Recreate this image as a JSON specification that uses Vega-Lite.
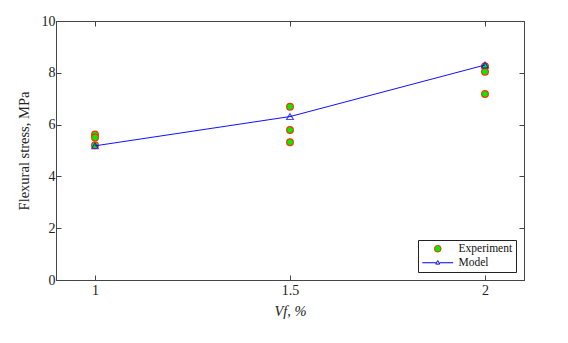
{
  "$schema": "https://vega.github.io/schema/vega-lite/v6.json",
  "width": 468,
  "height": 259,
  "autosize": "none",
  "padding": {"left": 56, "top": 21, "right": 44, "bottom": 63},
  "background": "white",
  "config": {
    "view": {"stroke": "#444", "strokeWidth": 1},
    "font": "Liberation Serif",
    "axis": {
      "grid": false,
      "domainColor": "#444",
      "tickColor": "#444",
      "tickSize": -5,
      "labelFont": "Liberation Serif",
      "labelFontSize": 14,
      "labelColor": "#222",
      "titleFont": "Liberation Serif",
      "titleFontWeight": "normal",
      "titleFontSize": 14.5,
      "titleColor": "#222"
    },
    "legend": {
      "labelFont": "Liberation Serif",
      "labelFontSize": 11.5,
      "labelColor": "#111"
    }
  },
  "datasets": {
    "exp": [
      {"vf": 1, "stress": 5.62, "series": "Experiment"},
      {"vf": 1, "stress": 5.5, "series": "Experiment"},
      {"vf": 1, "stress": 5.2, "series": "Experiment"},
      {"vf": 1.5, "stress": 6.69, "series": "Experiment"},
      {"vf": 1.5, "stress": 5.79, "series": "Experiment"},
      {"vf": 1.5, "stress": 5.32, "series": "Experiment"},
      {"vf": 2, "stress": 8.25, "series": "Experiment"},
      {"vf": 2, "stress": 8.04, "series": "Experiment"},
      {"vf": 2, "stress": 7.18, "series": "Experiment"}
    ],
    "model": [
      {"vf": 1, "stress": 5.18},
      {"vf": 1.5, "stress": 6.31},
      {"vf": 2, "stress": 8.3}
    ]
  },
  "resolve": {"axis": {"x": "independent", "y": "independent"}},
  "layer": [
    {
      "data": {"name": "exp"},
      "mark": {"type": "point", "filled": true, "size": 45, "strokeWidth": 1.2, "opacity": 1},
      "encoding": {
        "x": {"field": "vf", "type": "quantitative",
              "scale": {"domain": [0.9, 2.1], "nice": false, "zero": false},
              "axis": {"values": [1, 1.5, 2], "format": "~g", "title": "Vf, %", "titleFontStyle": "italic", "labelPadding": 8, "titlePadding": 7}},
        "y": {"field": "stress", "type": "quantitative",
              "scale": {"domain": [0, 10], "nice": false},
              "axis": {"values": [0, 2, 4, 6, 8, 10], "title": "Flexural stress, MPa", "labelPadding": 6, "titlePadding": 10}},
        "shape": {"field": "series", "type": "nominal",
                  "scale": {"domain": ["Experiment", "Model"], "range": ["circle", "M-4.6,0H-0.55M0.55,0H4.6M0,-0.65L0.6,0.4H-0.6Z"]},
                  "legend": {"title": null, "orient": "bottom-right", "offset": 8,
                             "strokeColor": "#222", "fillColor": "white", "padding": 3,
                             "symbolSize": 45, "symbolOffset": 11, "labelOffset": 15, "rowPadding": 1, "symbolStrokeWidth": 1}},
        "fill": {"field": "series", "type": "nominal",
                 "scale": {"domain": ["Experiment", "Model"], "range": ["#00ee00", "transparent"]}},
        "stroke": {"field": "series", "type": "nominal",
                   "scale": {"domain": ["Experiment", "Model"], "range": ["#ff3300", "#0000ff"]}}
      }
    },
    {
      "data": {"name": "model"},
      "mark": {"type": "line", "color": "#1010ff", "strokeWidth": 1},
      "encoding": {
        "x": {"field": "vf", "type": "quantitative", "axis": {"orient": "top", "values": [1, 1.5, 2], "labels": false, "title": null}},
        "y": {"field": "stress", "type": "quantitative", "axis": {"orient": "right", "values": [0, 2, 4, 6, 8, 10], "labels": false, "title": null}}
      }
    },
    {
      "data": {"name": "model"},
      "mark": {"type": "point", "shape": "triangle-up", "filled": false, "color": "#0000ff", "size": 45, "strokeWidth": 1.2},
      "encoding": {
        "x": {"field": "vf", "type": "quantitative", "axis": null},
        "y": {"field": "stress", "type": "quantitative", "axis": null}
      }
    }
  ]
}
